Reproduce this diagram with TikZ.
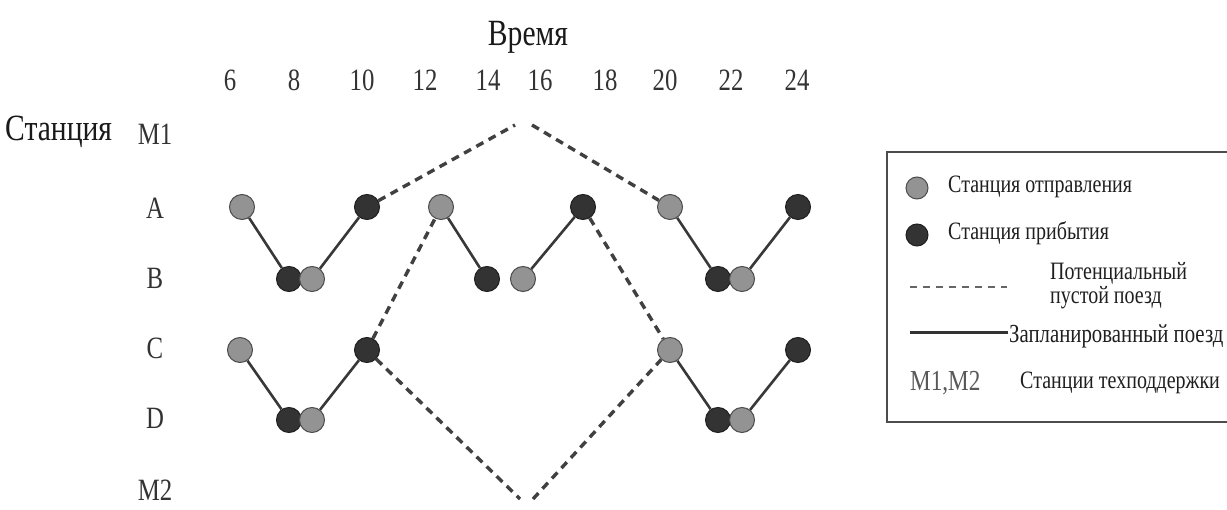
\documentclass[tikz,border=0pt]{standalone}
\usepackage{fontspec}
\setmainfont[FakeStretch=0.8]{Liberation Serif}
\begin{document}
\begin{tikzpicture}[x=1pt,y=-1pt,
  dep/.style={circle, minimum size=25pt, inner sep=0pt, fill=gray!85, draw=gray!60!black, line width=1pt},
  arr/.style={circle, minimum size=25pt, inner sep=0pt, fill=black!80, draw=black!88, line width=1pt},
  sched/.style={line width=2.6pt, draw=black!78},
  emptyrun/.style={line width=3.4pt, dash pattern=on 8pt off 6pt, draw=black!75},
  bigtxt/.style={font=\fontsize{37}{40}\selectfont, text=black!90, inner sep=0pt},
  axtxt/.style={font=\fontsize{31}{34}\selectfont, text=black!80, inner sep=0pt},
  legtxt/.style={font=\fontsize{25}{28}\selectfont, text=black!88, inner sep=0pt, anchor=west}
]
\useasboundingbox (0,0) rectangle (1227,510);
\fill[white] (0,0) rectangle (1227,510);

% titles
\node[bigtxt] (time) at (528,37) {Время};
\node[bigtxt, anchor=west] (station) at (5,132) {Станция};

% time axis
\foreach \t/\x in {6/230,8/294,10/362,12/425,14/488,16/540,18/605,20/665,22/731,24/797}
  \node[axtxt] (t\t) at (\x,80) {\t};

% station labels
\node[axtxt] (sM1) at (155,134) {M1};
\node[axtxt] (sA) at (155,208) {A};
\node[axtxt] (sB) at (155,278) {B};
\node[axtxt] (sC) at (155,348) {C};
\node[axtxt] (sD) at (155,418) {D};
\node[axtxt] (sM2) at (155,490) {M2};

% circles, row A
\node[dep] (a1) at (242,207) {};
\node[arr] (a2) at (367,207) {};
\node[dep] (a3) at (441,207) {};
\node[arr] (a4) at (583,207) {};
\node[dep] (a5) at (670,207) {};
\node[arr] (a6) at (798,207) {};
% row B
\node[arr] (b1) at (289,279) {};
\node[dep] (b2) at (312,279) {};
\node[arr] (b3) at (487,279) {};
\node[dep] (b4) at (523,279) {};
\node[arr] (b5) at (718,279) {};
\node[dep] (b6) at (742,279) {};
% row C
\node[dep] (c1) at (240,350) {};
\node[arr] (c2) at (367,350) {};
\node[dep] (c5) at (670,350) {};
\node[arr] (c6) at (798,350) {};
% row D
\node[arr] (d1) at (289,420) {};
\node[dep] (d2) at (312,420) {};
\node[arr] (d5) at (718,420) {};
\node[dep] (d6) at (742,420) {};

% scheduled trains
\draw[sched] (a1) -- (b1);
\draw[sched] (b2) -- (a2);
\draw[sched] (a3) -- (b3);
\draw[sched] (b4) -- (a4);
\draw[sched] (a5) -- (b5);
\draw[sched] (b6) -- (a6);
\draw[sched] (c1) -- (d1);
\draw[sched] (d2) -- (c2);
\draw[sched] (c5) -- (d5);
\draw[sched] (d6) -- (c6);

% potential empty trains
\coordinate (m1l) at (515,125);
\coordinate (m1r) at (532,125);
\coordinate (m2l) at (520,499);
\coordinate (m2r) at (533,499);
\draw[emptyrun] (a2) -- (m1l);
\draw[emptyrun] (m1r) -- (a5);
\draw[emptyrun] (c2) -- (a3);
\draw[emptyrun] (a4) -- (c5);
\draw[emptyrun] (c2) -- (m2l);
\draw[emptyrun] (m2r) -- (c5);

% legend
\draw[line width=1.3pt, draw=black!70] (1240,152) -- (887,152) -- (887,422) -- (1240,422);
\node[dep, minimum size=22pt] (ldep) at (917,188) {};
\node[legtxt] (ldept) at (948,187) {Станция отправления};
\node[arr, minimum size=22pt] (larr) at (917,235) {};
\node[legtxt] (larrt) at (948,233) {Станция прибытия};
\coordinate (le1) at (910,287);
\coordinate (le2) at (1007,287);
\draw[line width=2.5pt, dash pattern=on 7pt off 6pt, draw=black!60] (le1) -- (le2);
\node[legtxt, align=left] (lemt) at (1050,286) {Потенциальный\\[-4pt]пустой поезд};
\coordinate (ls1) at (910,333);
\coordinate (ls2) at (1008,333);
\draw[line width=3pt, draw=black!80] (ls1) -- (ls2);
\node[legtxt, font=\fontsize{26}{29}\selectfont] (lst) at (1009,336) {Запланированный поезд};
\node[legtxt, font=\fontsize{29}{32}\selectfont, text=black!65] (lm) at (910,383) {M1,M2};
\node[legtxt, font=\fontsize{25}{28}\selectfont] (lmt) at (1020,383) {Станции техподдержки};
\end{tikzpicture}
\end{document}
